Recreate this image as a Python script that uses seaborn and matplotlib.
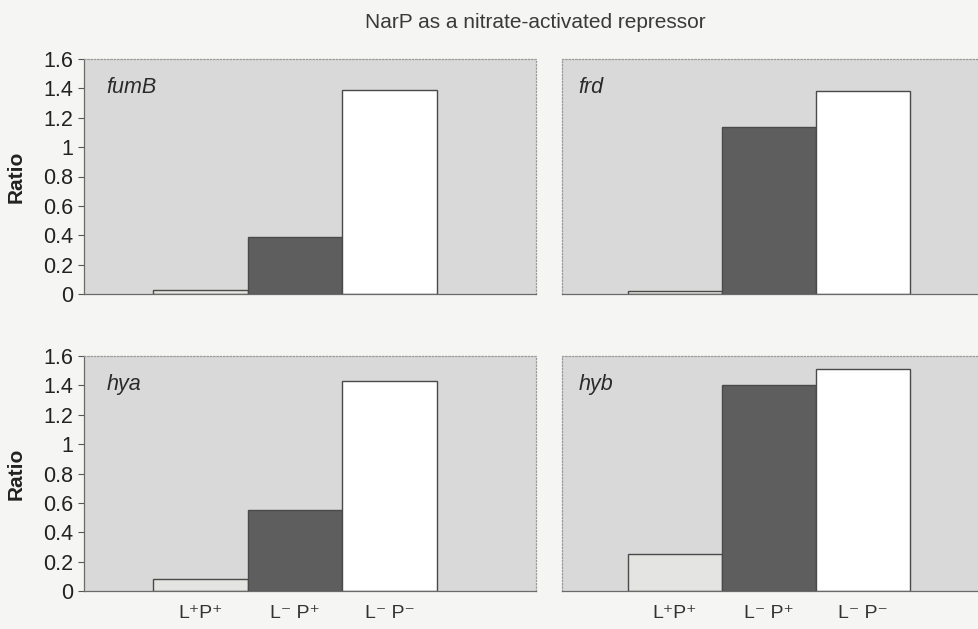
import matplotlib
matplotlib.use("Agg")
import matplotlib.pyplot as plt
import seaborn as sns
import pandas as pd

# Conditions (nitrate regulators present/absent) and per-gene expression ratios
conditions = ["L⁺P⁺", "L⁻ P⁺", "L⁻ P⁻"]
genes = ["fumB", "frd", "hya", "hyb"]
fumB_ratio = [0.03, 0.39, 1.39]
frd_ratio = [0.02, 1.14, 1.38]
hya_ratio = [0.08, 0.55, 1.43]
hyb_ratio = [0.25, 1.40, 1.51]
y_ticks = [0, 0.2, 0.4, 0.6, 0.8, 1, 1.2, 1.4, 1.6]
y_tick_labels = ["0", "0.2", "0.4", "0.6", "0.8", "1", "1.2", "1.4", "1.6"]

bar_colors = ["#e4e4e2", "#5e5e5e", "#ffffff"]
panel_bg = "#d9d9d9"
fig_bg = "#f5f5f4"

sns.set_theme(style="white")
plt.rcParams["font.family"] = ["Liberation Sans", "DejaVu Sans"]

fig = plt.figure(figsize=(9.79, 6.29), dpi=100, facecolor=fig_bg)

# axes rectangles: [left, bottom, width, height] in figure fractions
left_x, left_w = 84 / 979, 452 / 979
right_x = 562 / 979
right_w = 1.0 - right_x
top_b, bot_b = 1 - 294 / 629, 1 - 591 / 629
h = 235 / 629

panels = [
    ("fumB", fumB_ratio, [left_x, top_b, left_w, h], True, False),
    ("frd", frd_ratio, [right_x, top_b, right_w, h], False, False),
    ("hya", hya_ratio, [left_x, bot_b, left_w, h], True, True),
    ("hyb", hyb_ratio, [right_x, bot_b, right_w, h], False, True),
]

for name, values, rect, is_left, is_bottom in panels:
    ax = fig.add_axes(rect)
    ax.set_facecolor(panel_bg)
    df = pd.DataFrame({"condition": conditions, "ratio": values})
    sns.barplot(data=df, x="condition", y="ratio", hue="condition",
                palette=bar_colors, width=1.0, edgecolor="#4a4a4a",
                linewidth=1.0, legend=False, ax=ax)
    ax.set_ylim(0, 1.6)
    if is_left:
        ax.set_xlim(-1.229, 3.544)
    else:
        ax.set_xlim(-1.202, 3.234)
    ax.set_xlabel("")
    ax.set_ylabel("")
    ax.set_yticks(y_ticks)
    if is_left:
        ax.set_yticklabels(y_tick_labels, fontsize=15.5, color="#222222")
        ax.tick_params(axis="y", direction="out", length=4, width=0.8,
                       color="#555555", left=True, pad=4)
        ax.set_ylabel("Ratio", fontsize=15, fontweight="bold",
                      color="#222222", labelpad=12)
    else:
        ax.set_yticklabels([])
        ax.tick_params(axis="y", length=0)
    if is_bottom:
        ax.set_xticks(range(len(conditions)))
        ax.set_xticklabels(conditions, fontsize=14, color="#333333")
        ax.tick_params(axis="x", length=0, pad=10)
    else:
        ax.set_xticks([])
    for side in ["top", "right"]:
        ax.spines[side].set_visible(True)
        ax.spines[side].set_linestyle(":")
        ax.spines[side].set_color("#9a9a9a")
        ax.spines[side].set_linewidth(0.9)
    ax.spines["left"].set_color("#6a6a6a" if is_left else "#9a9a9a")
    ax.spines["left"].set_linestyle("-" if is_left else ":")
    ax.spines["bottom"].set_color("#6a6a6a")
    ax.spines["left"].set_linewidth(0.9)
    ax.spines["bottom"].set_linewidth(0.9)
    ax.text(0.05 if is_left else 0.04, 0.88, name, transform=ax.transAxes,
            fontsize=15.5, fontstyle="italic", color="#2a2a2a",
            ha="left", va="center")

fig.text(535 / 979, 1 - 22 / 629, "NarP as a nitrate-activated repressor",
         ha="center", va="center", fontsize=15, color="#3a3a3a")

fig.savefig("out.png", dpi=100, facecolor=fig_bg)
